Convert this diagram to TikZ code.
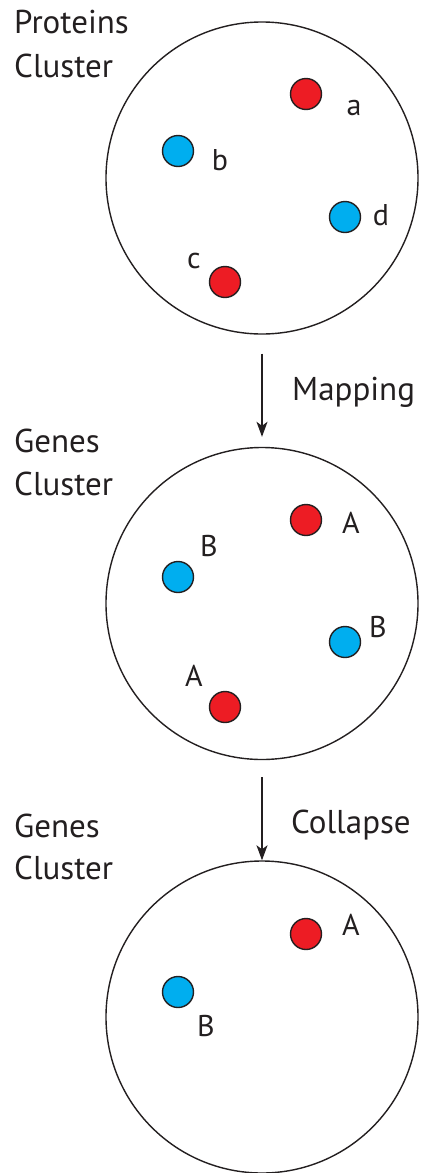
\documentclass[tikz,border=0pt]{standalone}
\usepackage{fontspec}
\setmainfont{PT Sans}
\usetikzlibrary{arrows.meta}
\definecolor{dotred}{HTML}{ED1C24}
\definecolor{dotblue}{HTML}{00AEEF}
\definecolor{ink}{HTML}{231F20}
\begin{document}
\begin{tikzpicture}[x=1pt,y=-1pt,
  cluster/.style={circle,draw=ink,line width=1.4pt,minimum size=312pt,inner sep=0pt},
  reddot/.style={circle,draw=ink,line width=1.4pt,fill=dotred,minimum size=31pt,inner sep=0pt},
  bluedot/.style={circle,draw=ink,line width=1.4pt,fill=dotblue,minimum size=31pt,inner sep=0pt},
  title/.style={anchor=base west,inner sep=0pt,text=ink,font=\fontsize{33}{39}\selectfont},
  tag/.style={anchor=base,inner sep=0pt,text=ink,font=\fontsize{30}{35}\selectfont},
  arr/.style={draw=ink,line width=1.4pt,-{Stealth[length=15pt,width=11pt,inset=4pt]}}]
\useasboundingbox (0,0) rectangle (426,1173);

% first cluster: proteins
\node[cluster] (c1) at (262,178) {};
\node[title] (t1a) at (14,33) {Proteins};
\node[title] (t1b) at (14,77) {Cluster};
\node[reddot]  (p1) at (306,94) {};
\node[bluedot] (p2) at (178,151) {};
\node[bluedot] (p3) at (345,217) {};
\node[reddot]  (p4) at (225,282) {};
\node[tag] (l1) at (354,115) {a};
\node[tag] (l2) at (220,170) {b};
\node[tag] (l3) at (381,225) {d};
\node[tag] (l4) at (194,268) {c};

% second cluster: genes after mapping
\node[cluster] (c2) at (262,603.5) {};
\node[title] (t2a) at (14,452) {Genes};
\node[title] (t2b) at (14,495) {Cluster};
\node[reddot]  (g1) at (306,520) {};
\node[bluedot] (g2) at (178,577) {};
\node[bluedot] (g3) at (345,642) {};
\node[reddot]  (g4) at (225,707) {};
\node[tag] (m1) at (351,533) {A};
\node[tag] (m2) at (209,556) {B};
\node[tag] (m3) at (378,637) {B};
\node[tag] (m4) at (194,686) {A};

% third cluster: genes after collapse
\node[cluster] (c3) at (262,1017) {};
\node[title] (t3a) at (14,837) {Genes};
\node[title] (t3b) at (14,879) {Cluster};
\node[reddot]  (h1) at (306,934) {};
\node[bluedot] (h2) at (178,992) {};
\node[tag] (n1) at (351,935) {A};
\node[tag] (n2) at (206,1036) {B};

% transitions
\draw[arr] ([yshift=-19pt]c1.south) -- ([yshift=10pt]c2.north);
\node[title] (s1) at (292,400) {Mapping};
\draw[arr] ([yshift=-17pt]c2.south) -- (c3.north);
\node[title] (s2) at (291,833) {Collapse};
\end{tikzpicture}
\end{document}
